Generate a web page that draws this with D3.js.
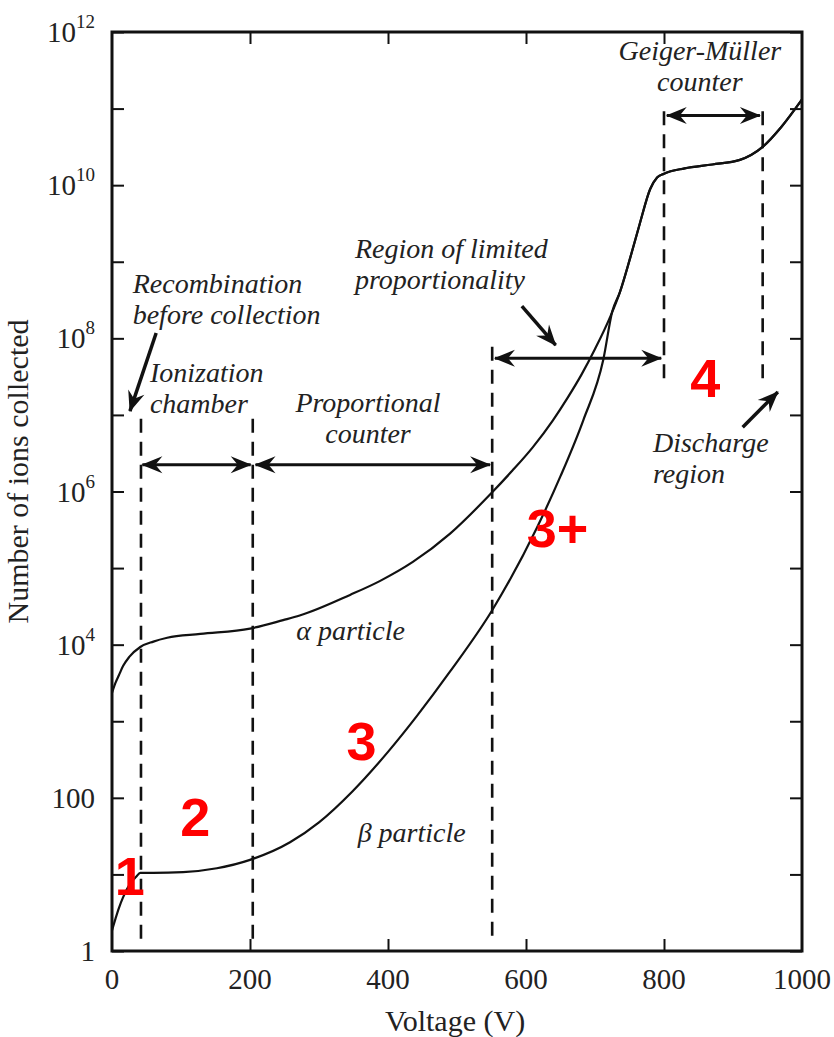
<!DOCTYPE html>
<html>
<head>
<meta charset="utf-8">
<script src="https://cdn.jsdelivr.net/npm/d3@7"></script>
<style>
  body { margin: 0; background: #fff; }
  svg text { font-family: "Liberation Serif", "Times New Roman", serif; fill: #222; }
  .note { font-style: italic; font-size: 28px; }
  .region { font-family: "Liberation Sans", Arial, sans-serif !important; font-weight: bold; font-size: 54px; fill: #ff0000 !important; }
</style>
</head>
<body>
<div id="chart"></div>
<script>
// alpha particle curve (voltage, log10 of ions collected)
const alphaVolts = [0, 5, 10, 16, 25, 41, 60, 80, 128, 200, 248, 272, 345, 388, 436, 490, 551, 580, 610, 639, 660, 680, 700, 722, 736, 751, 765, 780, 790, 800, 830, 870, 910, 943, 970, 1000];
const alphaLog   = [3.37, 3.5, 3.6, 3.72, 3.84, 3.97, 4.04, 4.09, 4.14, 4.21, 4.32, 4.38, 4.65, 4.83, 5.08, 5.45, 5.99, 6.27, 6.58, 6.93, 7.22, 7.52, 7.86, 8.28, 8.6, 9.05, 9.5, 9.95, 10.1, 10.15, 10.22, 10.27, 10.33, 10.5, 10.76, 11.12];

// beta particle curve, joins the alpha curve near 725 V
const betaVolts = [0, 5, 10, 16, 25, 35, 41, 60, 103, 152, 200, 258, 300, 348, 400, 442, 490, 551, 616, 650, 683, 712, 725];
const betaLog   = [0.27, 0.42, 0.56, 0.7, 0.86, 0.97, 1.02, 1.02, 1.03, 1.08, 1.19, 1.42, 1.68, 2.08, 2.6, 3.07, 3.65, 4.45, 5.53, 6.2, 6.93, 7.72, 8.35];

const xTicks = [0, 200, 400, 600, 800, 1000];
const yTickExp = [0, 1, 2, 3, 4, 5, 6, 7, 8, 9, 10, 11, 12];
const yLabelExp = [0, 2, 4, 6, 8, 10, 12];

// dashed boundaries: voltage, log10 bottom, log10 top
const boundaries = [
  { v: 42,  lo: 0.16, hi: 7.0 },
  { v: 204, lo: 0.16, hi: 7.0 },
  { v: 551, lo: 0.2,  hi: 8.0 },
  { v: 800, lo: 7.48, hi: 11.0 },
  { v: 943, lo: 7.48, hi: 11.0 }
];

// double arrows: from V, to V, at log10
const spans = [
  { v0: 44,  v1: 201, e: 6.35 },
  { v0: 208, v1: 548, e: 6.35 },
  { v0: 555, v1: 796, e: 7.74 },
  { v0: 804, v1: 939, e: 10.91 }
];

// pointer arrows: start (V, log10) to end (V, log10)
const pointers = [
  { v0: 64,  e0: 8.07, v1: 26,  e1: 7.05 },
  { v0: 594, e0: 8.42, v1: 643, e1: 7.91 },
  { v0: 914, e0: 6.84, v1: 965, e1: 7.3 }
];

// italic annotations: anchor V, log10 baseline of first line
const notes = [
  { v: 30,  e: 8.59, anchor: 'start',  lines: ['Recombination', 'before collection'] },
  { v: 352, e: 9.05, anchor: 'start',  lines: ['Region of limited', 'proportionality'] },
  { v: 55,  e: 7.43, anchor: 'start',  lines: ['Ionization', 'chamber'] },
  { v: 371, e: 7.04, anchor: 'middle', lines: ['Proportional', 'counter'] },
  { v: 852, e: 11.63, anchor: 'middle', lines: ['Geiger-Müller', 'counter'] },
  { v: 784, e: 6.51, anchor: 'start',  lines: ['Discharge', 'region'] },
  { v: 267, e: 4.06, anchor: 'start',  lines: ['α particle'] },
  { v: 356, e: 1.42, anchor: 'start',  lines: ['β particle'] }
];

// red region numbers
const regions = [
  { label: '1',  v: 4,   e: 0.73 },
  { label: '2',  v: 99,  e: 1.5 },
  { label: '3',  v: 340, e: 2.49 },
  { label: '3+', v: 601, e: 5.27 },
  { label: '4',  v: 838, e: 7.23 }
];

const W = 834, H = 1037;
const margin = { top: 32, right: 32, bottom: 86, left: 112 };
const width = W - margin.left - margin.right;
const height = H - margin.top - margin.bottom;

const svg = d3.select('#chart').append('svg')
  .attr('width', W).attr('height', H);

const defs = svg.append('defs');
defs.append('marker')
  .attr('id', 'head')
  .attr('viewBox', '-22 -10 23 20')
  .attr('refX', 0).attr('refY', 0)
  .attr('markerUnits', 'userSpaceOnUse')
  .attr('markerWidth', 23).attr('markerHeight', 20)
  .attr('orient', 'auto-start-reverse')
  .append('path')
  .attr('d', 'M1,0 L-20,-8.5 L-13,0 L-20,8.5 Z')
  .attr('fill', '#111');

const g = svg.append('g').attr('transform', `translate(${margin.left},${margin.top})`);

const x = d3.scaleLinear().domain([0, 1000]).range([0, width]);
const y = d3.scaleLog().domain([1, 1e12]).range([height, 0]);
const ye = e => y(Math.pow(10, e));

// axes, ticks pointing inward
const tickLen = 12;
const yTickVals = yTickExp.map(e => Math.pow(10, e));
const innerX = xTicks.slice(1, -1);

function styleAxis(sel) {
  sel.select('.domain').remove();
  sel.selectAll('.tick line').attr('stroke', '#111').attr('stroke-width', 2);
  sel.selectAll('.tick text').remove();
}

g.append('g').call(d3.axisLeft(y).tickValues(yTickVals).tickSize(-tickLen)).call(styleAxis);
g.append('g').attr('transform', `translate(${width},0)`)
  .call(d3.axisRight(y).tickValues(yTickVals).tickSize(-tickLen)).call(styleAxis);
g.append('g').attr('transform', `translate(0,${height})`)
  .call(d3.axisBottom(x).tickValues(innerX).tickSize(-tickLen)).call(styleAxis);
g.append('g')
  .call(d3.axisTop(x).tickValues(innerX).tickSize(-tickLen)).call(styleAxis);

g.append('rect')
  .attr('width', width).attr('height', height)
  .attr('fill', 'none').attr('stroke', '#111').attr('stroke-width', 3);

// x tick labels
g.append('g').selectAll('text')
  .data(xTicks)
  .join('text')
    .attr('x', d => x(d))
    .attr('y', height + 38)
    .attr('text-anchor', 'middle')
    .attr('font-size', 29)
    .text(d => d);

// y tick labels with superscripts
const yl = g.append('g').selectAll('text')
  .data(yLabelExp)
  .join('text')
    .attr('x', -17)
    .attr('y', d => ye(d) + 10)
    .attr('text-anchor', 'end')
    .attr('font-size', 29);
yl.each(function(d) {
  const t = d3.select(this);
  if (d === 0) t.text('1');
  else if (d === 2) t.text('100');
  else {
    t.append('tspan').text('10');
    t.append('tspan').attr('font-size', 19).attr('dy', -14).text(d);
  }
});

// axis titles
g.append('text')
  .attr('x', width / 2 - 2)
  .attr('y', height + 80)
  .attr('text-anchor', 'middle')
  .attr('font-size', 30)
  .text('Voltage (V)');

g.append('text')
  .attr('transform', `translate(${-84},${height / 2 - 20}) rotate(-90)`)
  .attr('text-anchor', 'middle')
  .attr('font-size', 30)
  .text('Number of ions collected');

// dashed region boundaries
g.append('g').selectAll('line')
  .data(boundaries)
  .join('line')
    .attr('x1', d => x(d.v)).attr('x2', d => x(d.v))
    .attr('y1', d => ye(d.lo)).attr('y2', d => ye(d.hi))
    .attr('stroke', '#111')
    .attr('stroke-width', 2.6)
    .attr('stroke-dasharray', '14,9');

// curves
const line = d3.line()
  .x(d => x(d[0]))
  .y(d => ye(d[1]))
  .curve(d3.curveMonotoneX);

const alpha = alphaVolts.map((v, i) => [v, alphaLog[i]]);
const beta = betaVolts.map((v, i) => [v, betaLog[i]])
  .concat(alpha.filter(d => d[0] > betaVolts[betaVolts.length - 1]));

[alpha, beta].forEach(s => {
  g.append('path')
    .datum(s)
    .attr('d', line)
    .attr('fill', 'none')
    .attr('stroke', '#111')
    .attr('stroke-width', 2.2);
});

// double-headed span arrows
g.append('g').selectAll('line')
  .data(spans)
  .join('line')
    .attr('x1', d => x(d.v0)).attr('x2', d => x(d.v1))
    .attr('y1', d => ye(d.e)).attr('y2', d => ye(d.e))
    .attr('stroke', '#111')
    .attr('stroke-width', 3)
    .attr('marker-start', 'url(#head)')
    .attr('marker-end', 'url(#head)');

// pointer arrows
g.append('g').selectAll('line')
  .data(pointers)
  .join('line')
    .attr('x1', d => x(d.v0)).attr('y1', d => ye(d.e0))
    .attr('x2', d => x(d.v1)).attr('y2', d => ye(d.e1))
    .attr('stroke', '#111')
    .attr('stroke-width', 3.5)
    .attr('marker-end', 'url(#head)');

// annotations
notes.forEach(n => {
  const t = g.append('text')
    .attr('class', 'note')
    .attr('text-anchor', n.anchor)
    .attr('x', x(n.v))
    .attr('y', ye(n.e));
  n.lines.forEach((s, i) => {
    t.append('tspan')
      .attr('x', x(n.v))
      .attr('dy', i === 0 ? 0 : 31)
      .text(s);
  });
});

// red region numbers
g.append('g').selectAll('text')
  .data(regions)
  .join('text')
    .attr('class', 'region')
    .attr('x', d => x(d.v))
    .attr('y', d => ye(d.e))
    .text(d => d.label);
</script>
</body>
</html>
